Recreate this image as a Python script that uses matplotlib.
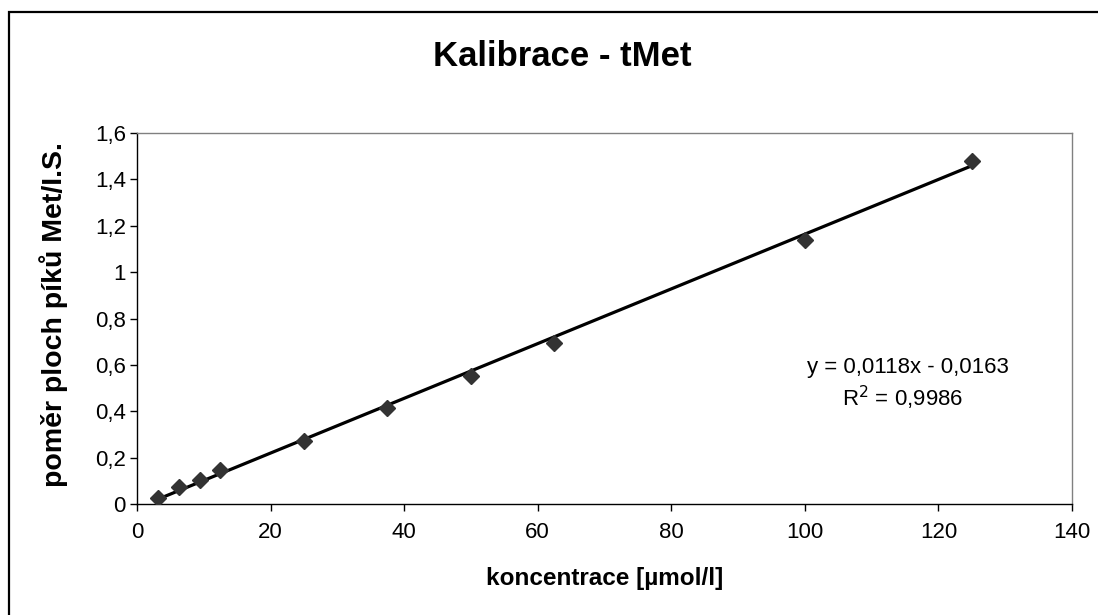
import matplotlib
matplotlib.use("Agg")
import matplotlib.pyplot as plt
from matplotlib.patches import Rectangle
from matplotlib.ticker import FuncFormatter

# Calibration data: concentration [µmol/l] vs. peak area ratio Met/I.S.
concentration = [3.125, 6.25, 9.375, 12.5, 25, 37.5, 50, 62.5, 100, 125]
area_ratio = [0.026, 0.073, 0.103, 0.145, 0.27, 0.413, 0.55, 0.695, 1.14, 1.478]

# Linear fit shown on the chart
slope = 0.0118
intercept = -0.0163
r_squared = 0.9986

x_ticks = [0, 20, 40, 60, 80, 100, 120, 140]
y_ticks = [0, 0.2, 0.4, 0.6, 0.8, 1.0, 1.2, 1.4, 1.6]

plt.rcParams["font.family"] = ["Liberation Sans", "DejaVu Sans"]

fig = plt.figure(figsize=(10.98, 6.15), dpi=100)
W, H = 1098, 615

# outer chart frame
fig.patches.append(Rectangle((9 / W, -0.05), 1.2, 1 - 12 / H + 0.05,
                             transform=fig.transFigure, fill=False,
                             edgecolor="black", linewidth=1.6))

ax = fig.add_axes([137 / W, 1 - 504 / H, (1072 - 137) / W, (504 - 133) / H])

x_fit = [concentration[0], concentration[-1]]
y_fit = [slope * v + intercept for v in x_fit]
ax.plot(x_fit, y_fit, color="black", linewidth=2.3, solid_capstyle="butt", zorder=2)
ax.plot(concentration, area_ratio, linestyle="none", marker="D", markersize=8,
        color="#333333", zorder=3)

ax.set_xlim(0, 140)
ax.set_ylim(0, 1.6)
ax.set_xticks(x_ticks)
ax.set_yticks(y_ticks)
ax.xaxis.set_major_formatter(FuncFormatter(lambda v, p: f"{v:g}"))
ax.yaxis.set_major_formatter(FuncFormatter(lambda v, p: f"{v:g}".replace(".", ",")))
ax.tick_params(axis="both", direction="out", length=5, width=1, colors="black",
               labelsize=16)
ax.tick_params(axis="x", pad=8)
ax.tick_params(axis="y", pad=3)

for side in ("top", "right"):
    ax.spines[side].set_color("#808080")
    ax.spines[side].set_linewidth(1)
for side in ("left", "bottom"):
    ax.spines[side].set_color("black")
    ax.spines[side].set_linewidth(1)

fig.text(562 / W, 1 - 57 / H, "Kalibrace - tMet", ha="center", va="center",
         fontsize=25, fontweight="bold")
fig.text(605 / W, 1 - 578 / H, "koncentrace [µmol/l]", ha="center", va="center",
         fontsize=17.5, fontweight="bold")
fig.text(54 / W, 1 - 315 / H, "poměr ploch píků Met/I.S.", ha="center", va="center",
         rotation=90, fontsize=20.5, fontweight="bold")

eq = f"y = {slope:.4f}x - {abs(intercept):.4f}".replace(".", ",")
r2 = f"R$^2$ = {r_squared:.4f}".replace(".", ",")
ax.text(115.4, 0.59, eq, ha="center", va="center", fontsize=16)
ax.text(114.7, 0.457, r2, ha="center", va="center", fontsize=16)

fig.savefig("out.png", dpi=100)
